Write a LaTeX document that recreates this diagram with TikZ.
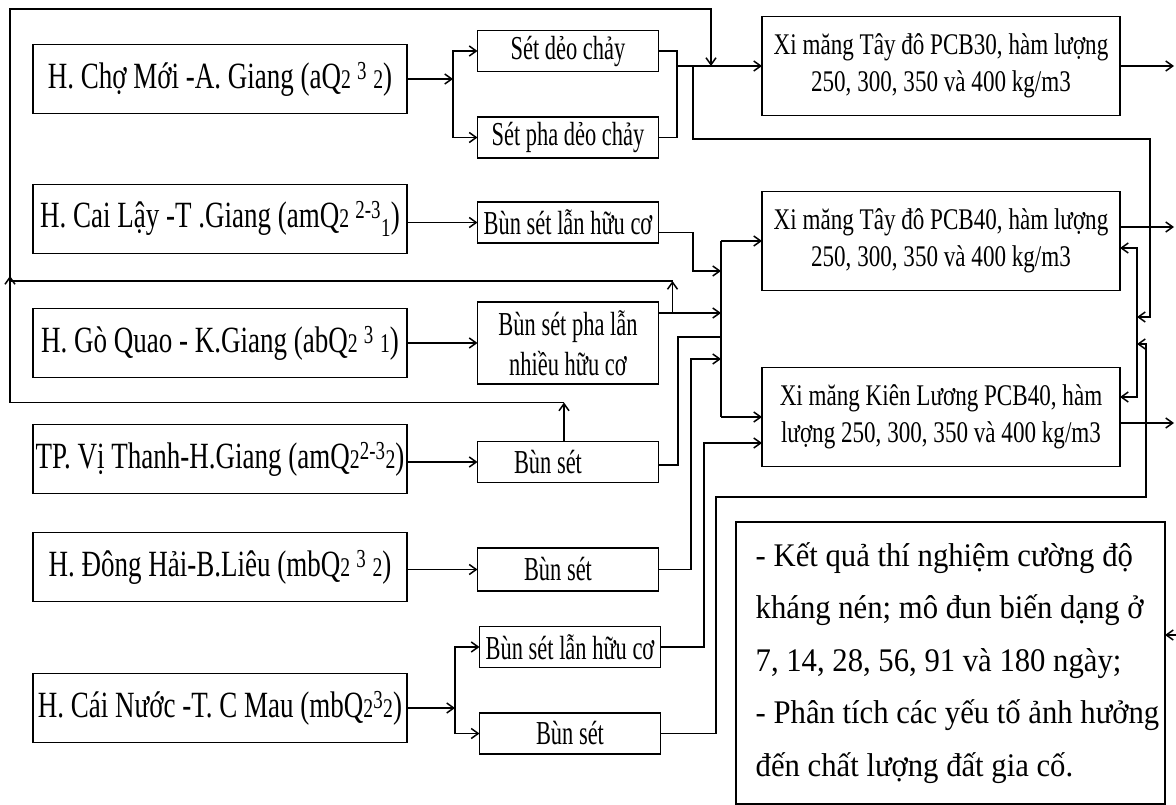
\documentclass[tikz,border=0pt]{standalone}
\usepackage{fontspec}
\setmainfont{Liberation Serif}
\newfontfamily\srcfont{Liberation Serif}[FakeStretch=0.73]
\newfontfamily\matfont{Liberation Serif}[FakeStretch=0.67]
\newfontfamily\cemfont{Liberation Serif}[FakeStretch=0.77]
\newfontfamily\resfont{Liberation Serif}[FakeStretch=0.93]
\usepackage{tikz}
\usetikzlibrary{arrows.meta,calc}
\newcommand{\qdig}[1]{{\fontsize{27}{27}\selectfont #1}}
\newcommand{\resind}{\hspace*{14pt}}

\begin{document}
\begin{tikzpicture}[x=1pt,y=-1pt,
	box/.style={draw,line width=1.6pt,inner sep=0pt,outer sep=0pt},
	srcbox/.style={box,minimum width=374pt,minimum height=69pt,font=\srcfont\fontsize{37}{40}\selectfont},
	matbox/.style={box,minimum width=181pt,minimum height=41pt,align=center,font=\matfont\fontsize{33.5}{40}\selectfont},
	cembox/.style={box,minimum width=358pt,minimum height=99pt,align=center,font=\cemfont\fontsize{30}{37}\selectfont},
	wire/.style={line width=1.5pt},
	conn/.style={wire,-{Straight Barb[length=7pt,width=10pt]}}]
				\useasboundingbox (0,0) rectangle (1176,805);
				\node[srcbox] (src1) at (220,79) {H. Chợ Mới -A. Giang (aQ\qdig{2}\,\textsuperscript{3}\,\qdig{2})};
				\node[srcbox] (src2) at (220,219) {H. Cai Lậy -T .Giang (amQ\qdig{2}\,\textsuperscript{2-3}\textsubscript{1})};
				\node[srcbox] (src3) at (220,343) {H. Gò Quao - K.Giang (abQ\qdig{2}\,\textsuperscript{3}\,\qdig{1})};
				\node[srcbox] (src4) at (220,459) {TP. Vị Thanh-H.Giang (amQ\qdig{2}\textsuperscript{2-3}\qdig{2})};
				\node[srcbox] (src5) at (220,567) {H. Đông Hải-B.Liêu (mbQ\qdig{2}\,\textsuperscript{3}\,\qdig{2})};
				\node[srcbox] (src6) at (220,708) {H. Cái Nước -T. C Mau (mbQ\qdig{2}\textsuperscript{3}\qdig{2})};
				\node[matbox] (mat1) at (568,51) {Sét dẻo chảy};
				\node[matbox] (mat2) at (568,137.5) {Sét pha dẻo chảy};
				\node[matbox] (mat3) at (568,222.5) {Bùn sét lẫn hữu cơ};
				\node[matbox,minimum height=82pt] (mat4) at (568,343) {Bùn sét pha lẫn\\nhiều hữu cơ};
				\node[matbox] (mat5) at (568,462) {Bùn sét\hspace{40pt}};
				\node[matbox,minimum height=43pt] (mat6) at (568,569.5) {Bùn sét\hspace{20pt}};
				\node[matbox] (mat7) at (570,647) {Bùn sét lẫn hữu cơ};
				\node[matbox] (mat8) at (570,733.5) {Bùn sét};
				\node[cembox] (cem1) at (941,66) {Xi măng Tây đô PCB30, hàm lượng\\250, 300, 350 và 400 kg/m3};
				\node[cembox] (cem2) at (941,241) {Xi măng Tây đô PCB40, hàm lượng\\250, 300, 350 và 400 kg/m3};
				\node[cembox] (cem3) at (941,417) {Xi măng Kiên Lương PCB40, hàm\\lượng 250, 300, 350 và 400 kg/m3};
				\node[box,minimum width=429pt,minimum height=282pt,align=left,font=\resfont\fontsize{33}{52.5}\selectfont] (res) at (950.5,663) {\resind- Kết quả thí nghiệm cường độ\\\resind kháng nén; mô đun biến dạng ở\\\resind 7, 14, 28, 56, 91 và 180 ngày;\\\resind- Phân tích các yếu tố ảnh hưởng\\\resind đến chất lượng đất gia cố.};
				% sources to materials
				\coordinate (fk1) at (453,79);
				\draw[conn] (src1.east) -- (fk1);
				\draw[conn] (fk1) |- (mat1.west);
				\draw[conn] (fk1) |- (mat2.west);
				\draw[conn] (src2.east |- mat3.west) -- (mat3.west);
				\draw[conn] (src3.east) -- (mat4.west);
				\draw[conn] (src4.east |- mat5.west) -- (mat5.west);
				\draw[conn] (src5.east |- mat6.west) -- (mat6.west);
				\coordinate (fk2) at (455,708);
				\draw[conn] (src6.east) -- (fk2);
				\draw[conn] (fk2) |- (mat7.west);
				\draw[conn] (fk2) |- (mat8.west);
				% materials to cement
				\coordinate (jn1) at (677,66);
				\coordinate (jn2) at (693,66);
				\draw[wire] (mat1.east) -| (jn1) |- (mat2.east);
				\draw[conn] (jn1) -- (cem1.west);
				\coordinate (bust) at (721,241);
				\coordinate (busb) at (721,417);
				\draw[wire] (bust) -- (busb);
				\draw[conn] (bust) -- (cem2.west);
				\draw[conn] (busb) -- (cem3.west);
				\draw[conn] ($(mat3.east)+(0,10)$) -| (693,271) -- (bust |- 0,271);
				\draw[conn] ($(mat4.east)+(0,-30)$) -- (bust |- 0,313);
				\draw[wire] ($(mat5.east)+(0,3)$) -| (678,337) -- (bust |- 0,337);
				\draw[conn] (mat6.east) -| (691,359) -- (bust |- 0,359);
				\draw[conn] (mat7.east) -| (704,443) -- (cem3.west |- 0,443);
				% right side
				\coordinate (rbus) at (1137,317);
				\draw[conn] (jn2) |- (1150,139) |- (rbus);
				\draw[conn] (rbus) |- ($(cem2.east)+(0,7)$);
				\draw[conn] (rbus) |- ($(cem3.east)+(0,-20)$);
				\draw[conn] (mat8.east) -| (716,497) -| (1146,344) -- ($(rbus)+(0,27)$);
				\draw[conn] (cem1.east) -- ++(54,0);
				\draw[conn] ($(cem2.east)+(0,-14)$) -- ++(54,0);
				\draw[conn] ($(cem3.east)+(0,6)$) -- ++(54,0);
				\coordinate (fb) at (1176,635);
				\draw[conn] (fb) -- (res.east |- fb);
				% loops back
				\draw[conn] ($(mat5.north)+(-4,0)$) -- ++(0,-39) coordinate (lp1);
				\draw[conn] (lp1) -| (10,9) -| (711,66);
				\draw[conn] ($(mat4.east)+(14,-30)$) -- ++(0,-32) coordinate (lp2);
				\draw[conn] (lp2) -| (10,276);
			\end{tikzpicture}
\end{document}
